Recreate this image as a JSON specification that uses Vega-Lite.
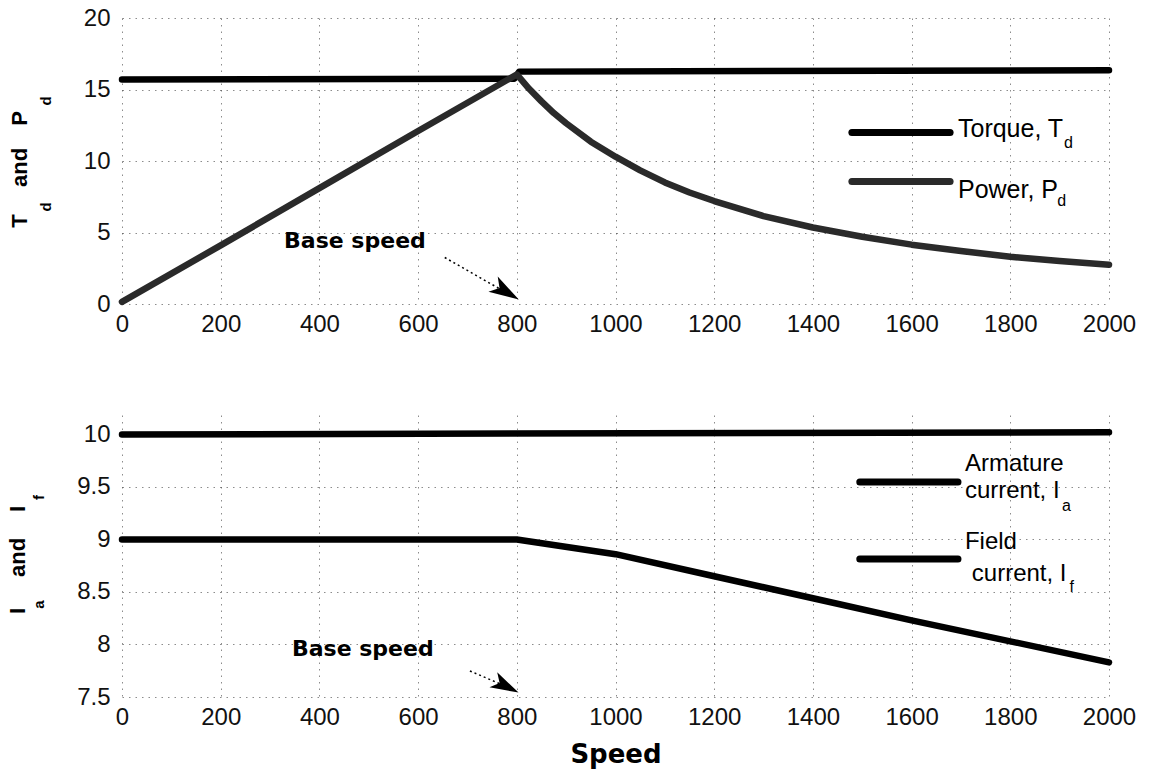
{
  "$schema": "https://vega.github.io/schema/vega-lite/v6.json",
  "background": "white",
  "padding": {"left": 7, "top": 6, "right": 5, "bottom": 2},
  "config": {
    "view": {"stroke": null},
    "text": {"font": "Liberation Sans", "color": "#000"},
    "axis": {
      "labelFont": "Liberation Sans",
      "labelFontSize": 24,
      "labelColor": "#111",
      "tickSize": 0,
      "domain": false,
      "grid": true,
      "gridColor": "#000",
      "gridDash": [1.5, 5],
      "gridOpacity": 0.45,
      "gridWidth": 1
    }
  },
  "datasets": {
    "top": [
      {"speed": 0, "value": 15.7, "series": "Torque"},
      {"speed": 795, "value": 15.75, "series": "Torque"},
      {"speed": 805, "value": 16.25, "series": "Torque"},
      {"speed": 2000, "value": 16.35, "series": "Torque"},
      {"speed": 0, "value": 0.15, "series": "Power"},
      {"speed": 200, "value": 4.1, "series": "Power"},
      {"speed": 400, "value": 8.1, "series": "Power"},
      {"speed": 600, "value": 12.1, "series": "Power"},
      {"speed": 800, "value": 16.05, "series": "Power"},
      {"speed": 825, "value": 15.05, "series": "Power"},
      {"speed": 850, "value": 14.17, "series": "Power"},
      {"speed": 875, "value": 13.35, "series": "Power"},
      {"speed": 900, "value": 12.64, "series": "Power"},
      {"speed": 950, "value": 11.35, "series": "Power"},
      {"speed": 1000, "value": 10.3, "series": "Power"},
      {"speed": 1050, "value": 9.35, "series": "Power"},
      {"speed": 1100, "value": 8.5, "series": "Power"},
      {"speed": 1150, "value": 7.8, "series": "Power"},
      {"speed": 1200, "value": 7.2, "series": "Power"},
      {"speed": 1300, "value": 6.15, "series": "Power"},
      {"speed": 1400, "value": 5.35, "series": "Power"},
      {"speed": 1500, "value": 4.7, "series": "Power"},
      {"speed": 1600, "value": 4.15, "series": "Power"},
      {"speed": 1700, "value": 3.7, "series": "Power"},
      {"speed": 1800, "value": 3.3, "series": "Power"},
      {"speed": 1900, "value": 3.0, "series": "Power"},
      {"speed": 2000, "value": 2.75, "series": "Power"}
    ],
    "bottom": [
      {"speed": 0, "value": 10.0, "series": "Armature"},
      {"speed": 2000, "value": 10.02, "series": "Armature"},
      {"speed": 0, "value": 9.0, "series": "Field"},
      {"speed": 800, "value": 9.0, "series": "Field"},
      {"speed": 1000, "value": 8.86, "series": "Field"},
      {"speed": 1200, "value": 8.65, "series": "Field"},
      {"speed": 1400, "value": 8.44, "series": "Field"},
      {"speed": 1600, "value": 8.23, "series": "Field"},
      {"speed": 1800, "value": 8.03, "series": "Field"},
      {"speed": 2000, "value": 7.83, "series": "Field"}
    ],
    "topLegendLines": [
      {"speed": 1479, "speed2": 1678, "value": 11.99, "series": "Torque"},
      {"speed": 1479, "speed2": 1678, "value": 8.57, "series": "Power"}
    ],
    "topLegendText": [
      {"speed": 1694, "value": 11.71, "label": "Torque, T"},
      {"speed": 1694, "value": 7.41, "label": "Power, P"}
    ],
    "topLegendSub": [
      {"speed": 1909, "value": 10.94, "label": "d"},
      {"speed": 1895, "value": 6.82, "label": "d"}
    ],
    "topTitle": [
      {"speed": -206, "value": 5.8, "label": "T"},
      {"speed": -206, "value": 9.55, "label": "and"},
      {"speed": -206, "value": 12.97, "label": "P"}
    ],
    "topTitleSub": [
      {"speed": -155, "value": 6.78, "label": "d"},
      {"speed": -155, "value": 14.2, "label": "d"}
    ],
    "topNote": [{"speed": 472, "value": 3.95, "label": "Base speed"}],
    "topArrow": [{"speed": 654, "speed2": 776, "value": 3.25, "value2": 0.85}],
    "topHead": [{"speed": 778, "value": 0.85}],
    "bottomLegendLines": [
      {"speed": 1495, "speed2": 1694, "value": 9.548, "series": "Armature"},
      {"speed": 1495, "speed2": 1694, "value": 8.814, "series": "Field"}
    ],
    "bottomLegendText": [
      {"speed": 1708, "value": 9.652, "label": "Armature"},
      {"speed": 1708, "value": 9.395, "label": "current, I"},
      {"speed": 1708, "value": 8.91, "label": "Field"},
      {"speed": 1722, "value": 8.6, "label": "current, I"}
    ],
    "bottomLegendSub": [
      {"speed": 1905, "value": 9.271, "label": "a"},
      {"speed": 1920, "value": 8.5, "label": "f"}
    ],
    "bottomTitle": [
      {"speed": -210, "value": 8.32, "label": "I"},
      {"speed": -210, "value": 8.83, "label": "and"},
      {"speed": -210, "value": 9.29, "label": "I"}
    ],
    "bottomTitleSub": [
      {"speed": -169, "value": 8.38, "label": "a"},
      {"speed": -169, "value": 9.4, "label": "f"}
    ],
    "bottomNote": [{"speed": 488, "value": 7.89, "label": "Base speed"}],
    "bottomArrow": [{"speed": 705, "speed2": 776, "value": 7.748, "value2": 7.605}],
    "bottomHead": [{"speed": 778, "value": 7.603}]
  },
  "spacing": 111,
  "bounds": "flush",
  "vconcat": [
    {
      "width": 987,
      "height": 286,
      "encoding": {
        "x": {
          "field": "speed", "type": "quantitative",
          "scale": {"domain": [0, 2000], "nice": false, "zero": false},
          "axis": {"title": null, "values": [0, 200, 400, 600, 800, 1000, 1200, 1400, 1600, 1800, 2000], "format": "d", "labelPadding": 8, "labelFlush": false, "labelOverlap": false}
        },
        "y": {
          "field": "value", "type": "quantitative",
          "scale": {"domain": [0, 20], "nice": false, "zero": false},
          "axis": {"title": null, "values": [0, 5, 10, 15, 20], "labelPadding": 12}
        }
      },
      "layer": [
        {
          "data": {"name": "top"},
          "mark": {"type": "line", "strokeWidth": 6.5, "strokeCap": "round", "strokeJoin": "round"},
          "encoding": {
            "color": {"field": "series", "type": "nominal", "scale": {"domain": ["Torque", "Power", "Armature", "Field"], "range": ["#000000", "#2a2a2a", "#000000", "#000000"]}, "legend": null}
          }
        },
        {
          "data": {"name": "topLegendLines"},
          "mark": {"type": "rule", "strokeWidth": 7, "strokeCap": "round"},
          "encoding": {
            "x2": {"field": "speed2"},
            "color": {"field": "series", "type": "nominal", "legend": null}
          }
        },
        {
          "data": {"name": "topLegendText"},
          "mark": {"type": "text", "align": "left", "baseline": "alphabetic", "fontSize": 25, "font": "Liberation Sans"},
          "encoding": {"text": {"field": "label"}}
        },
        {
          "data": {"name": "topLegendSub"},
          "mark": {"type": "text", "align": "left", "baseline": "alphabetic", "fontSize": 16, "font": "Liberation Sans"},
          "encoding": {"text": {"field": "label"}}
        },
        {
          "data": {"name": "topTitle"},
          "mark": {"type": "text", "angle": -90, "align": "center", "baseline": "middle", "fontSize": 22, "fontWeight": "bold", "font": "Liberation Sans"},
          "encoding": {"text": {"field": "label"}}
        },
        {
          "data": {"name": "topTitleSub"},
          "mark": {"type": "text", "angle": -90, "align": "center", "baseline": "middle", "fontSize": 15, "fontWeight": "bold", "font": "Liberation Sans"},
          "encoding": {"text": {"field": "label"}}
        },
        {
          "data": {"name": "topNote"},
          "mark": {"type": "text", "align": "center", "baseline": "alphabetic", "fontSize": 22, "fontWeight": "bold", "font": "DejaVu Sans"},
          "encoding": {"text": {"field": "label"}}
        },
        {
          "data": {"name": "topArrow"},
          "mark": {"type": "rule", "strokeWidth": 1.5, "strokeDash": [2, 3], "color": "#000"},
          "encoding": {"x2": {"field": "speed2"}, "y2": {"field": "value2"}}
        },
        {
          "data": {"name": "topHead"},
          "mark": {"type": "point", "shape": "M1,0L-1,-0.6L-0.5,0L-1,0.6Z", "angle": 31, "size": 900, "filled": true, "color": "#000", "opacity": 1},
          "encoding": {}
        }
      ]
    },
    {
      "width": 987,
      "height": 282,
      "encoding": {
        "x": {
          "field": "speed", "type": "quantitative",
          "scale": {"domain": [0, 2000], "nice": false, "zero": false},
          "axis": {"title": "Speed", "values": [0, 200, 400, 600, 800, 1000, 1200, 1400, 1600, 1800, 2000], "format": "d", "labelPadding": 8, "labelFlush": false, "labelOverlap": false, "titleFont": "DejaVu Sans", "titleFontSize": 26, "titleFontWeight": "bold", "titleColor": "#000", "titlePadding": 12}
        },
        "y": {
          "field": "value", "type": "quantitative",
          "scale": {"domain": [7.5, 10.185], "nice": false, "zero": false},
          "axis": {"title": null, "values": [7.5, 8, 8.5, 9, 9.5, 10], "format": "~f", "labelPadding": 12}
        }
      },
      "layer": [
        {
          "data": {"name": "bottom"},
          "mark": {"type": "line", "strokeWidth": 6.5, "strokeCap": "round", "strokeJoin": "round"},
          "encoding": {
            "color": {"field": "series", "type": "nominal", "legend": null}
          }
        },
        {
          "data": {"name": "bottomLegendLines"},
          "mark": {"type": "rule", "strokeWidth": 7, "strokeCap": "round"},
          "encoding": {
            "x2": {"field": "speed2"},
            "color": {"field": "series", "type": "nominal", "legend": null}
          }
        },
        {
          "data": {"name": "bottomLegendText"},
          "mark": {"type": "text", "align": "left", "baseline": "alphabetic", "fontSize": 24, "font": "Liberation Sans"},
          "encoding": {"text": {"field": "label"}}
        },
        {
          "data": {"name": "bottomLegendSub"},
          "mark": {"type": "text", "align": "left", "baseline": "alphabetic", "fontSize": 16, "font": "Liberation Sans"},
          "encoding": {"text": {"field": "label"}}
        },
        {
          "data": {"name": "bottomTitle"},
          "mark": {"type": "text", "angle": -90, "align": "center", "baseline": "middle", "fontSize": 22, "fontWeight": "bold", "font": "Liberation Sans"},
          "encoding": {"text": {"field": "label"}}
        },
        {
          "data": {"name": "bottomTitleSub"},
          "mark": {"type": "text", "angle": -90, "align": "center", "baseline": "middle", "fontSize": 15, "fontWeight": "bold", "font": "Liberation Sans"},
          "encoding": {"text": {"field": "label"}}
        },
        {
          "data": {"name": "bottomNote"},
          "mark": {"type": "text", "align": "center", "baseline": "alphabetic", "fontSize": 22, "fontWeight": "bold", "font": "DejaVu Sans"},
          "encoding": {"text": {"field": "label"}}
        },
        {
          "data": {"name": "bottomArrow"},
          "mark": {"type": "rule", "strokeWidth": 1.5, "strokeDash": [2, 3], "color": "#000"},
          "encoding": {"x2": {"field": "speed2"}, "y2": {"field": "value2"}}
        },
        {
          "data": {"name": "bottomHead"},
          "mark": {"type": "point", "shape": "M1,0L-1,-0.6L-0.5,0L-1,0.6Z", "angle": 27, "size": 800, "filled": true, "color": "#000", "opacity": 1},
          "encoding": {}
        }
      ]
    }
  ]
}
